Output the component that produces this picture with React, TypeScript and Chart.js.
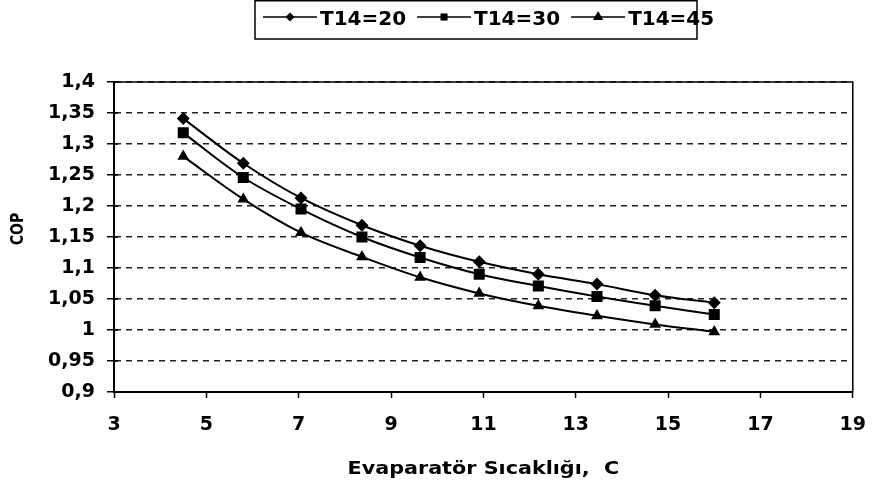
import React, { useEffect, useRef } from 'react';
import { Chart, registerables } from 'chart.js';

Chart.register(...registerables);

// ---- data ----
const evapTemps = [4.5, 5.8, 7.05, 8.37, 9.63, 10.91, 12.19, 13.46, 14.72, 16.0];
const copT20 = [1.341, 1.269, 1.213, 1.169, 1.136, 1.11, 1.09, 1.074, 1.056, 1.044];
const copT30 = [1.318, 1.246, 1.195, 1.15, 1.117, 1.09, 1.071, 1.054, 1.039, 1.025];
const copT45 = [1.28, 1.211, 1.157, 1.118, 1.085, 1.059, 1.039, 1.023, 1.009, 0.997];
const seriesLabels = ['T14=20', 'T14=30', 'T14=45'];
const xTickValues = [3, 5, 7, 9, 11, 13, 15, 17, 19];
const xTickLabels = ['3', '5', '7', '9', '11', '13', '15', '17', '19'];
const yTickValues = [0.9, 0.95, 1.0, 1.05, 1.1, 1.15, 1.2, 1.25, 1.3, 1.35, 1.4];
const yTickLabels = ['0,9', '0,95', '1', '1,05', '1,1', '1,15', '1,2', '1,25', '1,3', '1,35', '1,4'];
const xTitle = 'Evaparatör Sıcaklığı,  C';
const yTitle = 'COP';

const FONT = '"DejaVu Sans"';

function drawMarker(ctx: CanvasRenderingContext2D, style: string, x: number, y: number, r: number) {
  ctx.beginPath();
  if (style === 'rectRot') {
    ctx.moveTo(x, y - r);
    ctx.lineTo(x + r, y);
    ctx.lineTo(x, y + r);
    ctx.lineTo(x - r, y);
  } else if (style === 'rect') {
    const s = Math.SQRT1_2 * r;
    ctx.rect(x - s, y - s, 2 * s, 2 * s);
  } else {
    ctx.moveTo(x, y - r);
    ctx.lineTo(x + r * Math.sin(Math.PI / 3), y + r / 2);
    ctx.lineTo(x - r * Math.sin(Math.PI / 3), y + r / 2);
  }
  ctx.closePath();
  ctx.fill();
}

const framePlugin = {
  id: 'frameAndText',
  beforeDatasetsDraw(chart: any) {
    const { ctx, chartArea: a } = chart;
    ctx.save();
    ctx.strokeStyle = '#000';
    ctx.lineWidth = 1.5;
    ctx.strokeRect(a.left, a.top, a.right - a.left, a.bottom - a.top);
    // y tick marks crossing into plot area
    const ys = chart.scales.y;
    ctx.beginPath();
    yTickValues.forEach((v) => {
      const py = ys.getPixelForValue(v);
      ctx.moveTo(a.left, py);
      ctx.lineTo(a.left + 4, py);
    });
    ctx.stroke();
    ctx.restore();
  },
  afterDraw(chart: any) {
    const { ctx, chartArea: a } = chart;
    ctx.save();
    ctx.fillStyle = '#000';
    // x title
    ctx.font = `bold 18px ${FONT}`;
    ctx.textAlign = 'center';
    ctx.textBaseline = 'alphabetic';
    ctx.save();
    ctx.translate((a.left + a.right) / 2, 474);
    ctx.scale(1.15, 1);
    ctx.fillText(xTitle, 0, 0);
    ctx.restore();
    // y title
    ctx.save();
    ctx.translate(23, (a.top + a.bottom) / 2 - 8);
    ctx.rotate(-Math.PI / 2);
    ctx.scale(1, 1.3);
    ctx.font = `bold 14px ${FONT}`;
    ctx.textAlign = 'center';
    ctx.fillText(yTitle, 0, 0);
    ctx.restore();

    // legend
    const boxL = 255, boxT = 0.75, boxR = 697, boxB = 39;
    ctx.strokeStyle = '#000';
    ctx.lineWidth = 1.5;
    ctx.strokeRect(boxL, boxT, boxR - boxL, boxB - boxT);
    ctx.font = `bold 20px ${FONT}`;
    ctx.textAlign = 'left';
    ctx.textBaseline = 'alphabetic';
    let x = 263;
    const cy = 17;
    const legendRadii = [4.5, 5, 6];
    chart.data.datasets.forEach((ds: any, i: number) => {
      ctx.beginPath();
      ctx.lineWidth = 1.5;
      ctx.moveTo(x, cy);
      ctx.lineTo(x + 54, cy);
      ctx.stroke();
      drawMarker(ctx, ds.pointStyle, x + 27, cy, legendRadii[i]);
      const tx = x + 57;
      ctx.fillText(ds.label, tx, 25);
      x = tx + ctx.measureText(ds.label).width + 11;
    });
    ctx.restore();
  },
};

export default function App() {
  const canvasRef = useRef<HTMLCanvasElement | null>(null);

  useEffect(() => {
    document.body.style.margin = '0';
    const canvas = canvasRef.current;
    if (!canvas) return;
    const mk = (vals: number[]) => evapTemps.map((t, i) => ({ x: t, y: vals[i] }));
    const base = {
      borderColor: '#000',
      backgroundColor: '#000',
      pointBackgroundColor: '#000',
      pointBorderColor: '#000',
      borderWidth: 2,
      pointBorderWidth: 0,
      tension: 0.35,
      fill: false,
    };
    const chart = new Chart(canvas, {
      type: 'line',
      data: {
        datasets: [
          { ...base, label: seriesLabels[0], data: mk(copT20), pointStyle: 'rectRot', pointRadius: 6.5 },
          { ...base, label: seriesLabels[1], data: mk(copT30), pointStyle: 'rect', pointRadius: 7.8 },
          { ...base, label: seriesLabels[2], data: mk(copT45), pointStyle: 'triangle', pointRadius: 6.8 },
        ],
      },
      options: {
        responsive: false,
        animation: false,
        events: [],
        layout: { padding: { top: 82, right: 17, left: 0, bottom: 0 } },
        plugins: { legend: { display: false }, tooltip: { enabled: false }, title: { display: false } },
        scales: {
          x: {
            type: 'linear',
            min: 3,
            max: 19,
            afterFit: (s: any) => { s.height = 95; },
            afterBuildTicks: (s: any) => { s.ticks = xTickValues.map((v) => ({ value: v })); },
            ticks: {
              callback: (_v: any, i: number) => xTickLabels[i],
              color: '#000',
              font: { family: FONT, size: 19, weight: 'bold' },
              padding: 16,
              maxRotation: 0,
              autoSkip: false,
            },
            grid: { drawOnChartArea: false, drawTicks: true, tickLength: 6, tickColor: '#000', tickWidth: 1.5 },
            border: { display: true, color: '#000', width: 2 },
          },
          y: {
            type: 'linear',
            min: 0.9,
            max: 1.4,
            afterFit: (s: any) => { s.width = 114; },
            afterBuildTicks: (s: any) => { s.ticks = yTickValues.map((v) => ({ value: v })); },
            ticks: {
              callback: (_v: any, i: number) => yTickLabels[i],
              color: '#000',
              font: { family: FONT, size: 19, weight: 'bold' },
              padding: 12,
              autoSkip: false,
            },
            grid: { color: '#222', lineWidth: 1.5, tickLength: 7, tickColor: '#000', tickWidth: 1.5 },
            border: { display: true, color: '#000', width: 2, dash: [6, 5] },
          },
        },
      },
      plugins: [framePlugin],
    } as any);
    return () => chart.destroy();
  }, []);

  return (
    <div style={{ width: 882, height: 487 }}>
      <canvas ref={canvasRef} width={882} height={487} style={{ display: 'block' }} />
    </div>
  );
}
